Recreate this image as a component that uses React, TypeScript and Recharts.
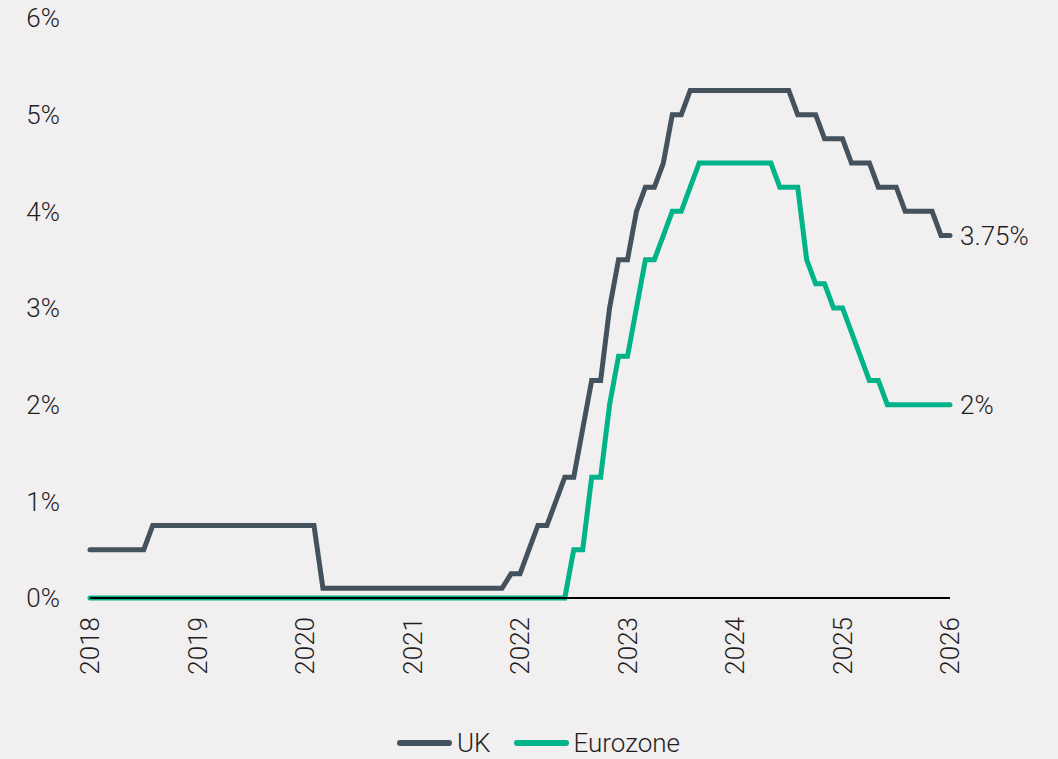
import React from 'react';
import { LineChart, Line, XAxis, YAxis, Legend } from 'recharts';

// Monthly policy rates, Jan 2018 .. Jan 2026 (97 months)
const ukRates: number[] = [
  // 2018
  0.5, 0.5, 0.5, 0.5, 0.5, 0.5, 0.5, 0.75, 0.75, 0.75, 0.75, 0.75,
  // 2019
  0.75, 0.75, 0.75, 0.75, 0.75, 0.75, 0.75, 0.75, 0.75, 0.75, 0.75, 0.75,
  // 2020
  0.75, 0.75, 0.1, 0.1, 0.1, 0.1, 0.1, 0.1, 0.1, 0.1, 0.1, 0.1,
  // 2021
  0.1, 0.1, 0.1, 0.1, 0.1, 0.1, 0.1, 0.1, 0.1, 0.1, 0.1, 0.25,
  // 2022
  0.25, 0.5, 0.75, 0.75, 1.0, 1.25, 1.25, 1.75, 2.25, 2.25, 3.0, 3.5,
  // 2023
  3.5, 4.0, 4.25, 4.25, 4.5, 5.0, 5.0, 5.25, 5.25, 5.25, 5.25, 5.25,
  // 2024
  5.25, 5.25, 5.25, 5.25, 5.25, 5.25, 5.25, 5.0, 5.0, 5.0, 4.75, 4.75,
  // 2025
  4.75, 4.5, 4.5, 4.5, 4.25, 4.25, 4.25, 4.0, 4.0, 4.0, 4.0, 3.75,
  // 2026
  3.75,
];

const eurozoneRates: number[] = [
  // 2018
  0, 0, 0, 0, 0, 0, 0, 0, 0, 0, 0, 0,
  // 2019
  0, 0, 0, 0, 0, 0, 0, 0, 0, 0, 0, 0,
  // 2020
  0, 0, 0, 0, 0, 0, 0, 0, 0, 0, 0, 0,
  // 2021
  0, 0, 0, 0, 0, 0, 0, 0, 0, 0, 0, 0,
  // 2022
  0, 0, 0, 0, 0, 0, 0.5, 0.5, 1.25, 1.25, 2.0, 2.5,
  // 2023
  2.5, 3.0, 3.5, 3.5, 3.75, 4.0, 4.0, 4.25, 4.5, 4.5, 4.5, 4.5,
  // 2024
  4.5, 4.5, 4.5, 4.5, 4.5, 4.25, 4.25, 4.25, 3.5, 3.25, 3.25, 3.0,
  // 2025
  3.0, 2.75, 2.5, 2.25, 2.25, 2.0, 2.0, 2.0, 2.0, 2.0, 2.0, 2.0,
  // 2026
  2.0,
];

const yearLabels: string[] = ['2018', '2019', '2020', '2021', '2022', '2023', '2024', '2025', '2026'];
const yTicks: number[] = [0, 1, 2, 3, 4, 5, 6];
const seriesNames = { uk: 'UK', ez: 'Eurozone' };

const data = ukRates.map((v, i) => ({ m: i, uk: v, ez: eurozoneRates[i] }));
const xTicks = yearLabels.map((_, i) => i * 12);

const FONT = 'Roboto, "Noto Sans", sans-serif';
const TEXT = '#1e1e1e';
const UK_COLOR = '#44525e';
const EZ_COLOR = '#00b388';
const BG = '#f1eff0';

const XTick = (props: any) => {
  const { x, y, payload } = props;
  return (
    <g transform={`translate(${x},${y})`}>
      <text
        transform="rotate(-90)"
        x={-11}
        y={0}
        dy="0.36em"
        textAnchor="end"
        fill={TEXT}
        fontSize={26}
        fontFamily={FONT}
        fontWeight={300}
      >
        {yearLabels[Math.round(payload.value / 12)]}
      </text>
    </g>
  );
};

const endLabel = (lastIndex: number) => (props: any) => {
  const { x, y, index, value } = props;
  if (index !== lastIndex) return null;
  return (
    <text
      x={x + 10}
      y={y}
      dy="0.36em"
      fill={TEXT}
      fontSize={26}
      fontFamily={FONT}
      fontWeight={300}
      textAnchor="start"
    >
      {`${value}%`}
    </text>
  );
};

const LegendContent = () => {
  const items = [
    { name: seriesNames.uk, color: UK_COLOR },
    { name: seriesNames.ez, color: EZ_COLOR },
  ];
  return (
    <div
      style={{
        height: 40,
        boxSizing: 'border-box',
        paddingTop: 8,
        paddingLeft: 19,
        display: 'flex',
        justifyContent: 'center',
        alignItems: 'center',
        fontFamily: FONT,
        fontWeight: 300,
        fontSize: 26,
        color: TEXT,
      }}
    >
      {items.map((it, i) => (
        <div
          key={it.name}
          style={{ display: 'flex', alignItems: 'center', marginLeft: i === 0 ? 0 : 23 }}
        >
          <span
            style={{
              display: 'inline-block',
              width: 55,
              height: 6,
              borderRadius: 3,
              background: it.color,
              marginRight: 5,
            }}
          />
          <span style={{ lineHeight: '32px' }}>{it.name}</span>
        </div>
      ))}
    </div>
  );
};

export default function App() {
  const last = data.length - 1;
  return (
    <div
      style={{
        position: 'absolute',
        left: 0,
        top: 0,
        width: 1058,
        height: 759,
        background: BG,
        overflow: 'hidden',
      }}
    >
      <LineChart
        width={1058}
        height={759}
        data={data}
        margin={{ top: 18, right: 108, left: 0, bottom: 0 }}
      >
        <XAxis
          dataKey="m"
          type="number"
          domain={[0, 96]}
          ticks={xTicks}
          interval={0}
          tick={<XTick />}
          tickLine={false}
          axisLine={{ stroke: '#000', strokeWidth: 2 }}
          height={121}
        />
        <YAxis
          type="number"
          domain={[0, 6]}
          ticks={yTicks}
          interval={0}
          width={90}
          axisLine={false}
          tickLine={false}
          tickMargin={24}
          tickFormatter={(v: number) => `${v}%`}
          tick={{ fill: TEXT, fontSize: 26, fontFamily: FONT, fontWeight: 300 }}
        />
        <Legend verticalAlign="bottom" content={<LegendContent />} wrapperStyle={{ left: 0, width: 1058 }} />
        <Line
          type="linear"
          dataKey="uk"
          name={seriesNames.uk}
          stroke={UK_COLOR}
          strokeWidth={5}
          strokeLinecap="round"
          dot={false}
          isAnimationActive={false}
          label={endLabel(last)}
        />
        <Line
          type="linear"
          dataKey="ez"
          name={seriesNames.ez}
          stroke={EZ_COLOR}
          strokeWidth={5}
          strokeLinecap="round"
          dot={false}
          isAnimationActive={false}
          label={endLabel(last)}
        />
      </LineChart>
    </div>
  );
}
